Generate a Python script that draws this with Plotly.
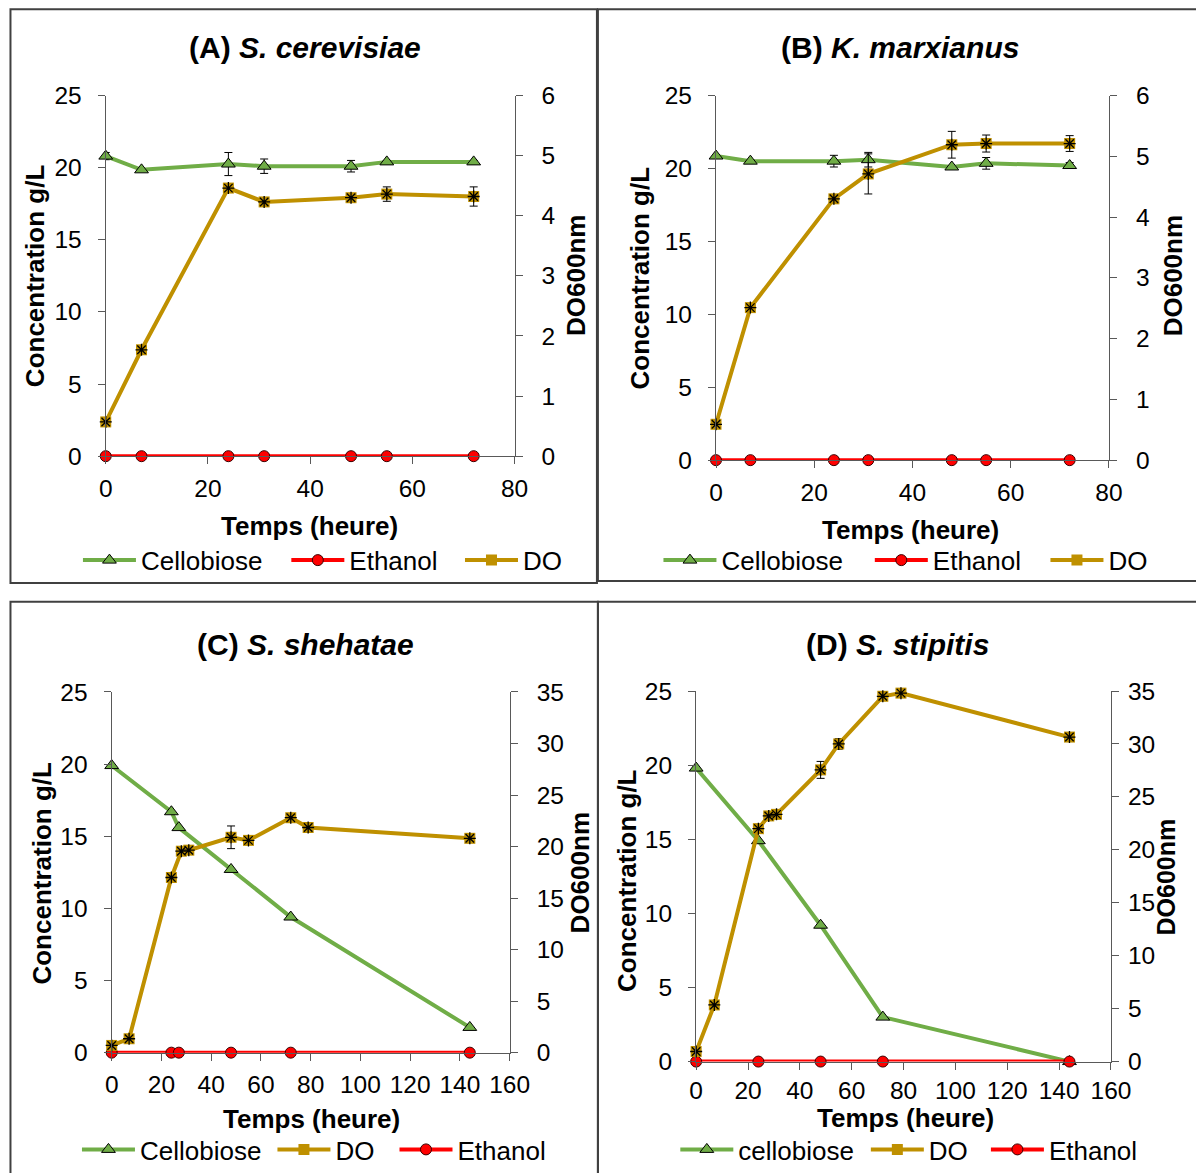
import plotly.graph_objects as go

# ---------------- data ----------------
# Panel A : S. cerevisiae
t_A = [0, 7, 24, 31, 48, 55, 72]
cello_A = [20.8, 19.85, 20.25, 20.1, 20.1, 20.4, 20.4]
cello_A_err = [0.25, 0.05, 0.8, 0.5, 0.4, 0.1, 0.1]
etoh_A = [0, 0, 0, 0, 0, 0, 0]
do_A = [0.57, 1.77, 4.46, 4.23, 4.30, 4.36, 4.32]
do_A_err = [0.02, 0.03, 0.05, 0.03, 0.04, 0.12, 0.16]

# Panel B : K. marxianus
t_B = [0, 7, 24, 31, 48, 55, 72]
cello_B = [20.85, 20.5, 20.5, 20.6, 20.1, 20.35, 20.2]
cello_B_err = [0.1, 0.1, 0.4, 0.5, 0.1, 0.4, 0.2]
etoh_B = [0, 0, 0, 0, 0, 0, 0]
do_B = [0.59, 2.51, 4.30, 4.71, 5.19, 5.21, 5.21]
do_B_err = [0.02, 0.05, 0.05, 0.33, 0.22, 0.14, 0.13]

# Panel C : S. shehatae
t_C_cello = [0, 24, 27, 48, 72, 144]
cello_C = [19.9, 16.7, 15.6, 12.7, 9.4, 1.75]
t_C_do = [0, 7, 24, 28, 31, 48, 55, 72, 79, 144]
do_C = [0.7, 1.35, 17.0, 19.55, 19.65, 20.9, 20.6, 22.8, 21.85, 20.8]
do_C_err = [0.2, 0.2, 0.3, 0.3, 0.3, 1.1, 0.3, 0.3, 0.3, 0.3]
t_C_etoh = [0, 24, 27, 48, 72, 144]
etoh_C = [0, 0, 0, 0, 0, 0]

# Panel D : S. stipitis
t_D_cello = [0, 24, 48, 72, 144]
cello_D = [19.8, 14.9, 9.2, 3.0, 0]
t_D_do = [0, 7, 24, 28, 31, 48, 55, 72, 79, 144]
do_D = [0.95, 5.35, 22.0, 23.2, 23.35, 27.55, 30.0, 34.5, 34.8, 30.65]
do_D_err = [0.3, 0.3, 0.4, 0.3, 0.3, 0.8, 0.5, 0.3, 0.2, 0.4]
t_D_etoh = [0, 24, 48, 72, 144]
etoh_D = [0, 0, 0, 0, 0]

titles = ["<b>(A) <i>S. cerevisiae</i></b>", "<b>(B) <i>K. marxianus</i></b>",
          "<b>(C) <i>S. shehatae</i></b>", "<b>(D) <i>S. stipitis</i></b>"]
ylabel_left = "Concentration g/L"
ylabel_right = "DO600nm"
xlabel = "Temps (heure)"

# ---------------- style ----------------
W, H = 1196, 1173
FONT = "Liberation Sans, Arial, sans-serif"
GREEN, RED, GOLD = "#70AD47", "#FF0000", "#BF9000"
AX = "#595959"
TICK = 24.5


# target pixel positions -> layout pixel positions (small fit correction)
def cxp(x):
    return (x - 4.5) / 0.985


def cyp(y):
    return 586 + (y - 586) / 0.98


def px(x):
    return cxp(x) / W


def py(y):
    return 1 - cyp(y) / H


def xd(l, r):
    return [max(0, px(l)), min(1, px(r))]


def yd(top, bottom):
    return [max(0, py(bottom)), min(1, py(top))]


fig = go.Figure()

panels = [
    dict(box=(104, 516, 95, 459), xmax=80, rmax=6, rdt=1, rso=14, xso=3),
    dict(box=(719, 1115, 95, 463), xmax=80, rmax=6, rdt=1, rso=14, xso=3),
    dict(box=(110, 511, 697, 1061), xmax=160, rmax=35, rdt=5, rso=14, xso=3),
    dict(box=(699, 1117, 696, 1070), xmax=160, rmax=35, rdt=5, rso=4, xso=0),
]

layout = dict(
    width=W, height=H, autosize=False,
    margin=dict(l=0, r=0, t=0, b=0),
    paper_bgcolor="white", plot_bgcolor="rgba(0,0,0,0)",
    font=dict(family=FONT, color="black"),
    showlegend=True,
)

for i, p in enumerate(panels):
    l, r, t, b = p["box"]
    xa = "xaxis" if i == 0 else f"xaxis{i+1}"
    ya = "yaxis" if i == 0 else f"yaxis{2*i+1}"
    ya2 = f"yaxis{2*i+2}"
    xref = "x" if i == 0 else f"x{i+1}"
    yref = "y" if i == 0 else f"y{2*i+1}"
    common = dict(showgrid=False, zeroline=False, showline=True, linecolor=AX,
                  linewidth=1.3, ticks="outside", ticklen=7, tickcolor=AX,
                  tickfont=dict(size=TICK, family=FONT))
    layout[xa] = dict(domain=xd(l, r), range=[0, p["xmax"]], dtick=20, tick0=0,
                      anchor=yref, ticklabelstandoff=p["xso"], **common)
    layout[ya] = dict(domain=yd(t, b), range=[0, 25], dtick=5, tick0=0,
                      anchor=xref, ticklabelstandoff=11, **common)
    layout[ya2] = dict(domain=yd(t, b), range=[0, p["rmax"]], dtick=p["rdt"], tick0=0,
                       anchor=xref, overlaying=yref, side="right",
                       ticklabelstandoff=p["rso"], **common)

# one legend per entry: (text-start x, centre y) in target pixels
legend_spots = {
    ("A", "C"): (139, 564), ("A", "E"): (349, 564), ("A", "D"): (524, 564),
    ("B", "C"): (724, 564), ("B", "E"): (937, 564), ("B", "D"): (1114, 564),
    ("C", "C"): (138, 1159), ("C", "D"): (335, 1159), ("C", "E"): (458, 1159),
    ("D", "C"): (741, 1159), ("D", "D"): (933, 1159), ("D", "E"): (1054, 1159),
}
legend_names = {}
for k, key in enumerate(legend_spots):
    name = "legend" if k == 0 else f"legend{k+1}"
    legend_names[key] = name
    tx, ty = legend_spots[key]
    layout[name] = dict(x=px(tx - 63), y=py(ty), xanchor="left", yanchor="middle",
                        orientation="h", font=dict(size=26, family=FONT),
                        bgcolor="rgba(0,0,0,0)", itemclick=False, itemwidth=53,
                        borderwidth=0)

fig.update_layout(**layout)


def err(arr):
    return dict(type="data", array=arr, visible=True, color="black", thickness=1, width=4)


def add_panel(i, tag, tc, yc, yc_err, te, ye, td, yd_, yd_err, cello_name):
    xref = "x" if i == 0 else f"x{i+1}"
    yl = "y" if i == 0 else f"y{2*i+1}"
    yr = f"y{2*i+2}"
    fig.add_trace(go.Scatter(
        x=tc, y=yc, name=cello_name, xaxis=xref, yaxis=yl, legend=legend_names[(tag, "C")],
        mode="lines+markers", cliponaxis=False,
        line=dict(color=GREEN, width=4),
        marker=dict(symbol="triangle-up", size=12, color=GREEN, line=dict(color="black", width=1)),
        error_y=err(yc_err) if yc_err is not None else None))
    fig.add_trace(go.Scatter(
        x=td, y=yd_, name="DO", xaxis=xref, yaxis=yr, legend=legend_names[(tag, "D")],
        mode="lines+markers", cliponaxis=False,
        line=dict(color=GOLD, width=4),
        marker=dict(symbol="square", size=11, color=GOLD, line=dict(width=0)),
        error_y=err(yd_err)))
    fig.add_trace(go.Scatter(
        x=td, y=yd_, xaxis=xref, yaxis=yr, showlegend=False,
        mode="markers", cliponaxis=False, hoverinfo="skip",
        marker=dict(symbol="asterisk-open", size=10, color="black",
                    line=dict(color="black", width=1.3))))
    fig.add_trace(go.Scatter(
        x=te, y=ye, name="Ethanol", xaxis=xref, yaxis=yl, legend=legend_names[(tag, "E")],
        mode="lines+markers", cliponaxis=False,
        line=dict(color=RED, width=4),
        marker=dict(symbol="circle", size=11, color=RED, line=dict(color="#3a0000", width=1))))


add_panel(0, "A", t_A, cello_A, cello_A_err, t_A, etoh_A, t_A, do_A, do_A_err, "Cellobiose")
add_panel(1, "B", t_B, cello_B, cello_B_err, t_B, etoh_B, t_B, do_B, do_B_err, "Cellobiose")
add_panel(2, "C", t_C_cello, cello_C, None, t_C_etoh, etoh_C, t_C_do, do_C, do_C_err, "Cellobiose")
add_panel(3, "D", t_D_cello, cello_D, None, t_D_etoh, etoh_D, t_D_do, do_D, do_D_err, "cellobiose")

# ---------------- annotations (titles & axis titles) ----------------
ann = []
title_pos = [(305, 47), (904, 47), (305, 649), (902, 649)]
left_lab = [(33, 277), (642, 279), (40, 880), (630, 887)]
right_lab = [(578, 277), (1179, 277), (582, 880), None]
bottom_lab = [(309, 529), (915, 534), (311, 1128), (910, 1127)]
for i in range(4):
    ann.append(dict(text=titles[i], x=px(title_pos[i][0]), y=py(title_pos[i][1]),
                    xref="paper", yref="paper", showarrow=False,
                    xanchor="center", yanchor="middle", font=dict(size=30, family=FONT)))
    ann.append(dict(text=f"<b>{ylabel_left}</b>", x=px(left_lab[i][0]), y=py(left_lab[i][1]),
                    xref="paper", yref="paper", showarrow=False, textangle=-90,
                    xanchor="center", yanchor="middle", font=dict(size=26, family=FONT)))
    if right_lab[i] is not None:
        rx, ry, rs = px(right_lab[i][0]), py(right_lab[i][1]), 26
    else:
        rx, ry, rs = 1186 / W, py(884), 25
    ann.append(dict(text=f"<b>{ylabel_right}</b>", x=rx, y=ry,
                    xref="paper", yref="paper", showarrow=False, textangle=-90,
                    xanchor="center", yanchor="middle", font=dict(size=rs, family=FONT)))
    ann.append(dict(text=f"<b>{xlabel}</b>", x=px(bottom_lab[i][0]), y=py(bottom_lab[i][1]),
                    xref="paper", yref="paper", showarrow=False,
                    xanchor="center", yanchor="middle", font=dict(size=26, family=FONT)))

frames = [(8, 8, 599, 587), (600, 8, 1215, 585), (8, 606, 600, 1195), (600, 606, 1215, 1195)]
shapes = []
for (x0, y0, x1, y1) in frames:
    shapes.append(dict(type="rect", xref="paper", yref="paper",
                       x0=px(x0), x1=px(x1), y0=py(y1), y1=py(y0),
                       line=dict(color="#404040", width=2), layer="below"))

fig.update_layout(annotations=ann, shapes=shapes)
fig.write_html("out.html", config={"displayModeBar": False},
               post_script="document.body.style.margin='0';document.body.style.overflow='hidden';")
